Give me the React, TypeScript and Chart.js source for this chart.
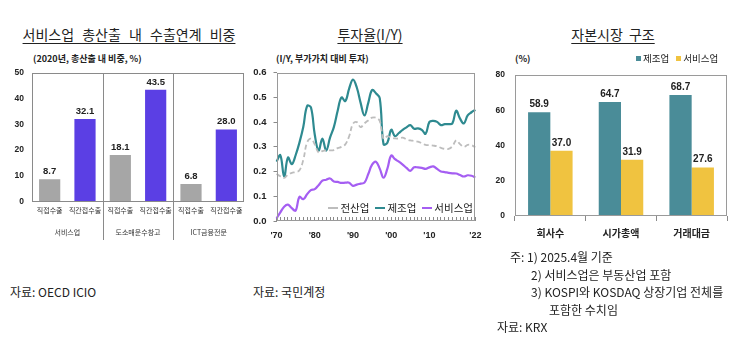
import React, { useEffect, useRef } from 'react';
import { Chart, registerables } from 'chart.js';

Chart.register(...registerables);

const KR = '"Noto Sans CJK KR", "Noto Sans", sans-serif';
const NUM = '"Liberation Sans", Arial, sans-serif';

// ---------- Panel 1: 서비스업 총산출 내 수출연계 비중 ----------
const exportGroups = ['서비스업', '도소매운수창고', 'ICT금융전문'];
const exportTypes = ['직접수출', '직간접수출'];
const directShare = [8.7, 18.1, 6.8];
const totalShare = [32.1, 43.5, 28.0];
const directColor = '#A6A6A6';
const totalColor = '#5B3FE4';

// ---------- Panel 2: 투자율(I/Y) ----------
const years = [
  1970, 1971, 1972, 1973, 1974, 1975, 1976, 1977, 1978, 1979,
  1980, 1981, 1982, 1983, 1984, 1985, 1986, 1987, 1988, 1989,
  1990, 1991, 1992, 1993, 1994, 1995, 1996, 1997, 1998, 1999,
  2000, 2001, 2002, 2003, 2004, 2005, 2006, 2007, 2008, 2009,
  2010, 2011, 2012, 2013, 2014, 2015, 2016, 2017, 2018, 2019,
  2020, 2021, 2022,
];
const tickYears = [1970, 1980, 1990, 2000, 2010, 2022];
const tickTexts = ["'70", "'80", "'90", "'00", "'10", "'22"];
const allIndustry = [
  0.190, 0.181, 0.174, 0.188, 0.195, 0.198, 0.205, 0.247, 0.318, 0.333,
  0.310, 0.277, 0.283, 0.286, 0.286, 0.287, 0.295, 0.300, 0.310, 0.343,
  0.393, 0.400, 0.380, 0.395, 0.407, 0.418, 0.418, 0.405, 0.332, 0.343,
  0.337, 0.334, 0.334, 0.337, 0.330, 0.326, 0.324, 0.321, 0.315, 0.308,
  0.307, 0.305, 0.302, 0.296, 0.292, 0.292, 0.302, 0.326, 0.311, 0.300,
  0.308, 0.307, 0.298,
];
const manufacturing = [
  0.240, 0.266, 0.180, 0.257, 0.230, 0.266, 0.317, 0.380, 0.465, 0.460,
  0.350, 0.285, 0.333, 0.285, 0.337, 0.380, 0.446, 0.500, 0.485, 0.536,
  0.572, 0.540, 0.478, 0.427, 0.478, 0.530, 0.517, 0.497, 0.310, 0.317,
  0.369, 0.343, 0.356, 0.369, 0.379, 0.388, 0.373, 0.375, 0.369, 0.353,
  0.401, 0.405, 0.401, 0.388, 0.392, 0.392, 0.395, 0.446, 0.414, 0.395,
  0.427, 0.440, 0.450,
];
const services = [
  0.010, 0.035, 0.058, 0.066, 0.052, 0.042, 0.098, 0.088, 0.108, 0.125,
  0.129, 0.145, 0.163, 0.167, 0.172, 0.160, 0.158, 0.154, 0.155, 0.155,
  0.142, 0.147, 0.151, 0.155, 0.190, 0.228, 0.240, 0.212, 0.175, 0.212,
  0.265, 0.250, 0.240, 0.228, 0.215, 0.203, 0.217, 0.217, 0.215, 0.211,
  0.217, 0.221, 0.211, 0.200, 0.198, 0.195, 0.193, 0.192, 0.186, 0.180,
  0.185, 0.183, 0.176,
];
const lineNames = ['전산업', '제조업', '서비스업'];
const lineColors = ['#BDBDBD', '#2E8A90', '#A55EF2'];

// ---------- Panel 3: 자본시장 구조 ----------
const marketCats = ['회사수', '시가총액', '거래대금'];
const marketNames = ['제조업', '서비스업'];
const mfgShare = [58.9, 64.7, 68.7];
const svcShare = [37.0, 31.9, 27.6];
const marketColors = ['#4A8C98', '#F0C340'];

// ---------- plugins ----------
const boxPlugin = (color: string) => ({
  id: 'box',
  afterDatasetsDraw(chart: any) {
    const { ctx, chartArea: a } = chart;
    ctx.save();
    ctx.strokeStyle = color;
    ctx.lineWidth = 1;
    const l = Math.round(a.left) + 0.5;
    const t = Math.round(a.top) + 0.5;
    const r = Math.round(a.right) - 0.5;
    const b = Math.round(a.bottom) - 0.5;
    ctx.strokeRect(l, t, r - l, b - t);
    ctx.restore();
  },
});

const valueLabels = (font: string, color: string) => ({
  id: 'valueLabels',
  afterDatasetsDraw(chart: any) {
    const { ctx } = chart;
    ctx.save();
    ctx.font = font;
    ctx.fillStyle = color;
    ctx.textAlign = 'center';
    ctx.textBaseline = 'bottom';
    chart.data.datasets.forEach((ds: any, i: number) => {
      chart.getDatasetMeta(i).data.forEach((el: any, j: number) => {
        const v = ds.data[j];
        if (v == null) return;
        ctx.fillText(Number(v).toFixed(1), el.x, el.y - 3);
      });
    });
    ctx.restore();
  },
});

const groupSeparators = (color: string, bottomY: number) => ({
  id: 'groupSeparators',
  afterDatasetsDraw(chart: any) {
    const { ctx, chartArea: a } = chart;
    const xs = chart.scales.x;
    const per = exportTypes.length;
    ctx.save();
    ctx.strokeStyle = color;
    ctx.lineWidth = 1;
    for (let g = 1; g < exportGroups.length; g++) {
      const x = (xs.getPixelForValue(g * per - 1) + xs.getPixelForValue(g * per)) / 2;
      const px = Math.round(x) + 0.5;
      ctx.beginPath();
      ctx.moveTo(px, a.top);
      ctx.lineTo(px, bottomY);
      ctx.stroke();
    }
    ctx.restore();
  },
});

// ---------- charts ----------
function ExportChart() {
  const ref = useRef<HTMLCanvasElement>(null);
  useEffect(() => {
    const labels: string[] = [];
    const values: number[] = [];
    const colors: string[] = [];
    exportGroups.forEach((_, g) => {
      labels.push(exportTypes[0], exportTypes[1]);
      values.push(directShare[g], totalShare[g]);
      colors.push(directColor, totalColor);
    });
    const chart = new Chart(ref.current as HTMLCanvasElement, {
      type: 'bar',
      data: {
        labels,
        datasets: [
          {
            data: values,
            backgroundColor: colors,
            categoryPercentage: 1,
            barPercentage: 0.6,
          },
        ],
      },
      options: {
        responsive: false,
        animation: false,
        layout: { padding: { top: 4.5, right: 6, left: 0, bottom: 0 } },
        plugins: { legend: { display: false }, tooltip: { enabled: false } },
        scales: {
          x: {
            type: 'category',
            grid: { display: false, drawTicks: false },
            border: { display: false },
            ticks: {
              autoSkip: false,
              maxRotation: 0,
              padding: 5,
              color: '#333',
              font: { family: KR, size: 7 },
            },
            afterFit: (s: any) => { s.height = 20; },
          },
          x2: {
            type: 'category',
            labels: exportGroups,
            position: 'bottom',
            offset: true,
            weight: 1,
            grid: { display: false, drawTicks: false },
            border: { display: false },
            ticks: {
              autoSkip: false,
              maxRotation: 0,
              padding: 7,
              color: '#333',
              font: { family: KR, size: 7 },
            },
            afterFit: (s: any) => { s.height = 23.5; },
          },
          y: {
            min: 0,
            max: 50,
            grid: { display: false, drawTicks: false },
            border: { display: false },
            ticks: {
              stepSize: 10,
              padding: 8,
              color: '#222',
              font: { family: NUM, size: 8.5, weight: 'bold' },
            },
            afterFit: (s: any) => { s.width = 32; },
          },
        } as any,
      },
      plugins: [
        boxPlugin('#8A8A8A'),
        groupSeparators('#8A8A8A', 180),
        valueLabels(`bold 9.5px ${NUM}`, '#222'),
      ],
    } as any);
    return () => chart.destroy();
  }, []);
  return (
    <canvas
      ref={ref}
      width={250}
      height={185}
      style={{ position: 'absolute', left: 0, top: 60, width: 250, height: 185 }}
    />
  );
}

function InvestChart() {
  const ref = useRef<HTMLCanvasElement>(null);
  useEffect(() => {
    const series = [allIndustry, manufacturing, services];
    const chart = new Chart(ref.current as HTMLCanvasElement, {
      type: 'line',
      data: {
        labels: years.map(String),
        datasets: series.map((d, i) => ({
          label: lineNames[i],
          data: d,
          borderColor: lineColors[i],
          backgroundColor: lineColors[i],
          borderWidth: i === 0 ? 1.8 : 2.2,
          borderDash: i === 0 ? [5, 3] : [],
          pointRadius: 0,
          tension: 0.4,
          fill: false,
        })),
      },
      options: {
        responsive: false,
        animation: false,
        layout: { padding: { top: 5, right: 14, left: 0, bottom: 0 } },
        plugins: { legend: { display: false }, tooltip: { enabled: false } },
        scales: {
          x: {
            type: 'category',
            offset: false,
            grid: {
              display: true,
              drawOnChartArea: false,
              drawTicks: true,
              tickLength: -4,
              color: '#8A8A8A',
            },
            border: { display: false },
            ticks: {
              autoSkip: false,
              maxRotation: 0,
              padding: 13.6,
              color: '#222',
              font: { family: NUM, size: 9, weight: 'bold' },
              callback: (_v: any, i: number) => {
                const k = tickYears.indexOf(years[i]);
                return k >= 0 ? tickTexts[k] : '';
              },
            },
            afterFit: (s: any) => { s.height = 29; },
          },
          y: {
            min: 0,
            max: 0.6,
            grid: {
              display: true,
              drawOnChartArea: false,
              drawTicks: true,
              tickLength: 3,
              color: '#8A8A8A',
            },
            border: { display: false },
            ticks: {
              stepSize: 0.1,
              padding: 7,
              color: '#222',
              font: { family: NUM, size: 9.5, weight: 'bold' },
              callback: (v: any) => Number(v).toFixed(1),
            },
            afterFit: (s: any) => { s.width = 26.5; },
          },
        } as any,
      },
      plugins: [boxPlugin('#9A9A9A')],
    } as any);
    return () => chart.destroy();
  }, []);
  return (
    <canvas
      ref={ref}
      width={245}
      height={190}
      style={{ position: 'absolute', left: 250, top: 60, width: 245, height: 190 }}
    />
  );
}

function MarketChart() {
  const ref = useRef<HTMLCanvasElement>(null);
  useEffect(() => {
    const series = [mfgShare, svcShare];
    const chart = new Chart(ref.current as HTMLCanvasElement, {
      type: 'bar',
      data: {
        labels: marketCats,
        datasets: series.map((d, i) => ({
          label: marketNames[i],
          data: d,
          backgroundColor: marketColors[i],
          categoryPercentage: 0.63,
          barPercentage: 1,
        })),
      },
      options: {
        responsive: false,
        animation: false,
        layout: { padding: { top: 5, right: 8, left: 0, bottom: 0 } },
        plugins: { legend: { display: false }, tooltip: { enabled: false } },
        scales: {
          x: {
            grid: {
              display: true,
              drawOnChartArea: false,
              offset: true,
              drawTicks: true,
              tickLength: 5,
              color: '#8A8A8A',
            },
            border: { display: false },
            ticks: {
              padding: 6,
              color: '#222',
              font: { family: KR, size: 10, weight: 'bold' },
            },
            afterFit: (s: any) => { s.height = 34; },
          },
          y: {
            min: 0,
            max: 80,
            grid: { display: false, drawTicks: false },
            border: { display: false },
            ticks: {
              stepSize: 20,
              padding: 10,
              color: '#222',
              font: { family: NUM, size: 8.5, weight: 'bold' },
            },
            afterFit: (s: any) => { s.width = 25; },
          },
        } as any,
      },
      plugins: [boxPlugin('#9A9A9A'), valueLabels(`bold 10px ${NUM}`, '#222')],
    } as any);
    return () => chart.destroy();
  }, []);
  return (
    <canvas
      ref={ref}
      width={245}
      height={190}
      style={{ position: 'absolute', left: 490, top: 60, width: 245, height: 190 }}
    />
  );
}

// ---------- text helpers ----------
function Txt(props: {
  x: number;
  cy: number;
  size: number;
  text: string;
  w?: number;
  align?: 'left' | 'center' | 'right';
  bold?: boolean;
  underline?: boolean;
  ws?: number;
  color?: string;
}) {
  const lh = Math.round(props.size * 1.5);
  return (
    <div
      style={{
        position: 'absolute',
        left: props.x,
        top: props.cy - lh / 2,
        width: props.w,
        height: lh,
        lineHeight: `${lh}px`,
        fontSize: props.size,
        fontFamily: KR,
        fontWeight: props.bold ? 'bold' : 'normal',
        textAlign: props.align || 'left',
        textDecoration: props.underline ? 'underline' : 'none',
        textUnderlineOffset: '3px',
        wordSpacing: props.ws ? `${props.ws}px` : undefined,
        whiteSpace: 'pre',
        color: props.color || '#222',
      }}
    >
      {props.text}
    </div>
  );
}

function LineKey(props: { color: string; dashed?: boolean; label: string }) {
  return (
    <span style={{ display: 'inline-flex', alignItems: 'center', marginLeft: 6 }}>
      <span
        style={{
          display: 'inline-block',
          width: 10,
          height: 0,
          borderTop: `2px ${props.dashed ? 'dashed' : 'solid'} ${props.color}`,
          marginRight: 2,
        }}
      />
      <span>{props.label}</span>
    </span>
  );
}

export default function App() {
  return (
    <div
      style={{
        position: 'absolute',
        left: 0,
        top: 0,
        width: 745,
        height: 356,
        background: '#fff',
        fontFamily: KR,
        color: '#222',
        overflow: 'hidden',
      }}
    >
      <Txt x={10} w={238} cy={34} size={14} text="서비스업 총산출 내 수출연계 비중" align="center" underline ws={5} />
      <Txt x={300} w={140} cy={34} size={14} text="투자율(I/Y)" align="center" underline />
      <Txt x={543} w={140} cy={34} size={14} text="자본시장 구조" align="center" underline ws={3} />

      <Txt x={33} cy={59} size={9} bold text="(2020년, 총산출 내 비중, %)" />
      <Txt x={276} cy={59} size={9} bold text="(I/Y, 부가가치 대비 투자)" />
      <Txt x={515} cy={59} size={9} bold text="(%)" />

      <ExportChart />
      <InvestChart />
      <MarketChart />

      {/* line legend inside plot */}
      <div
        style={{
          position: 'absolute',
          right: 745 - 473,
          top: 200,
          height: 16,
          lineHeight: '16px',
          fontSize: 10.5,
          fontFamily: KR,
          color: '#222',
          display: 'flex',
          alignItems: 'center',
          whiteSpace: 'nowrap',
        }}
      >
        <LineKey color={lineColors[0]} dashed label={lineNames[0]} />
        <LineKey color={lineColors[1]} label={lineNames[1]} />
        <LineKey color={lineColors[2]} label={lineNames[2]} />
      </div>

      {/* bar legend */}
      <div
        style={{
          position: 'absolute',
          left: 636,
          top: 51,
          height: 14,
          lineHeight: '14px',
          fontSize: 9.5,
          fontFamily: KR,
          color: '#222',
          display: 'flex',
          alignItems: 'center',
          whiteSpace: 'nowrap',
        }}
      >
        {marketNames.map((n, i) => (
          <span key={n} style={{ display: 'inline-flex', alignItems: 'center', marginRight: 7 }}>
            <span style={{ display: 'inline-block', width: 5, height: 5, background: marketColors[i], marginRight: 2 }} />
            {n}
          </span>
        ))}
      </div>

      <Txt x={10} cy={292} size={12} text="자료: OECD ICIO" />
      <Txt x={253} cy={292} size={12} text="자료: 국민계정" />
      <Txt x={510} cy={257} size={12} text="주: 1) 2025.4월 기준" />
      <Txt x={531} cy={274.5} size={12} text="2) 서비스업은 부동산업 포함" />
      <Txt x={531} cy={292} size={12} text="3) KOSPI와 KOSDAQ 상장기업 전체를" />
      <Txt x={549} cy={309.5} size={12} text="포함한 수치임" />
      <Txt x={497} cy={327} size={12} text="자료: KRX" />
    </div>
  );
}
